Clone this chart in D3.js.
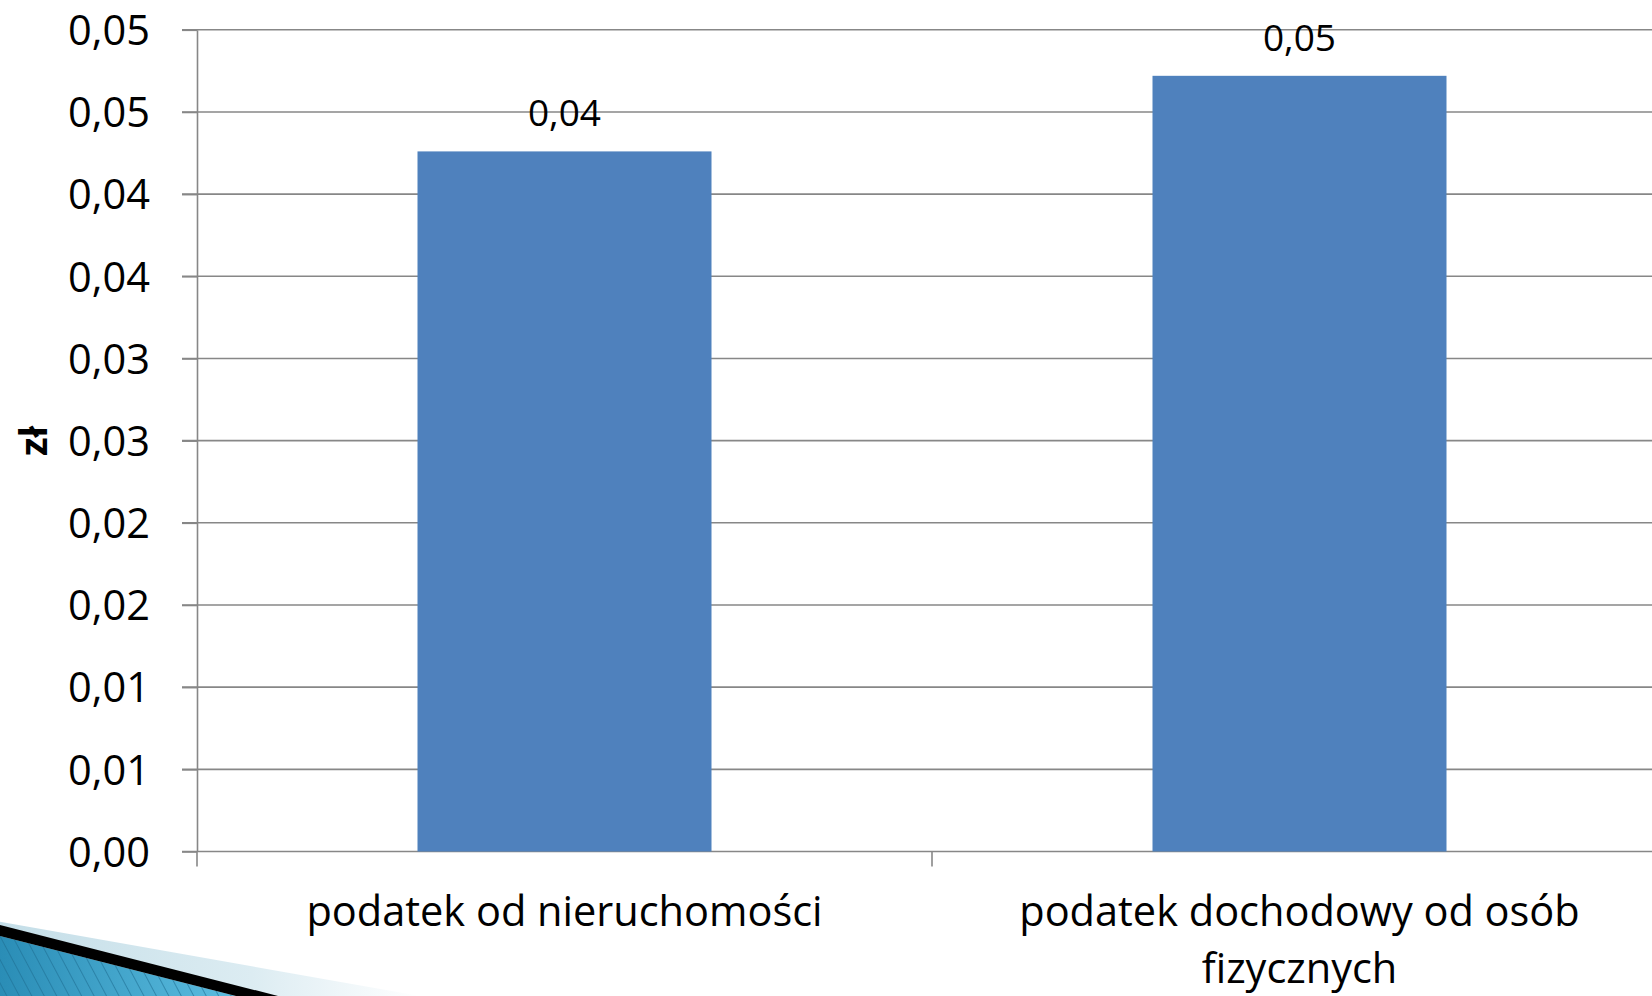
<!DOCTYPE html>
<html><head><meta charset="utf-8">
<script src="https://cdn.jsdelivr.net/npm/d3@7"></script>
<style>html,body{margin:0;padding:0;background:#fff;overflow:hidden}</style>
</head><body><svg id="c" width="1652" height="996"></svg>
<script>
// ---- data ----
const categories = ["podatek od nieruchomości", "podatek dochodowy od osób fizycznych"];
const values = [0.0426, 0.0472];
const valueLabels = ["0,04", "0,05"];
const yTicks = [0, 0.005, 0.01, 0.015, 0.02, 0.025, 0.03, 0.035, 0.04, 0.045, 0.05];
const yTickLabels = ["0,00", "0,01", "0,01", "0,02", "0,02", "0,03", "0,03", "0,04", "0,04", "0,05", "0,05"];
const yTitle = "zł";

// ---- layout ----
const W = 1652, H = 996;
const FONT = "'Open Sans', 'Noto Sans', sans-serif";
const GRID = "#878787";
const svg = d3.select("#c");

const x = d3.scaleBand().domain(categories).range([197, 1667]).paddingInner(0.6).paddingOuter(0.3);
const y = d3.scaleLinear().domain([0, 0.05]).range([851.5, 29.8]);

// decoration (slide theme) bottom-left
const defs = svg.append("defs");
const lg = defs.append("linearGradient").attr("id", "lightStrip").attr("x1", "0").attr("x2", "1").attr("y1", "0").attr("y2", "0");
lg.append("stop").attr("offset", "0").attr("stop-color", "#c4dee8");
lg.append("stop").attr("offset", "0.6").attr("stop-color", "#dcecf2");
lg.append("stop").attr("offset", "1").attr("stop-color", "#ffffff");
const bg = defs.append("linearGradient").attr("id", "blueFill").attr("x1", "0").attr("x2", "1").attr("y1", "0").attr("y2", "0");
bg.append("stop").attr("offset", "0").attr("stop-color", "#2a8db6");
bg.append("stop").attr("offset", "1").attr("stop-color", "#5cbde0");
const pat = defs.append("pattern").attr("id", "hatch").attr("patternUnits", "userSpaceOnUse")
  .attr("width", 11).attr("height", 11).attr("patternTransform", "rotate(-28)");
pat.append("line").attr("x1", 0.5).attr("y1", 0).attr("x2", 0.5).attr("y2", 11)
  .attr("stroke", "#1d6e92").attr("stroke-width", 1).attr("opacity", 0.6);

const deco = svg.append("g");
deco.append("path").attr("d", "M0,921.7 L420,996 L0,996 Z").attr("fill", "url(#lightStrip)");
deco.append("path").attr("d", "M0,936 L236,996 L0,996 Z").attr("fill", "url(#blueFill)");
deco.append("path").attr("d", "M0,936 L236,996 L0,996 Z").attr("fill", "url(#hatch)");
deco.append("path").attr("d", "M0,925 L278,996 L236,996 L0,936 Z").attr("fill", "#000");

// gridlines
svg.append("g").selectAll("line").data(yTicks).join("line")
  .attr("x1", 182).attr("x2", W)
  .attr("y1", d => y(d)).attr("y2", d => y(d))
  .attr("stroke", GRID).attr("stroke-width", 1.6);

// y axis
const yAxis = svg.append("g").attr("transform", "translate(197,0)")
  .call(d3.axisLeft(y).tickValues(yTicks).tickFormat((d, i) => yTickLabels[i]).tickSize(15).tickSizeOuter(0).tickPadding(32));
yAxis.select(".domain").attr("stroke", GRID).attr("stroke-width", 1.6);
yAxis.selectAll(".tick line").attr("stroke", GRID).attr("stroke-width", 1.6);
yAxis.selectAll(".tick text").attr("font-family", FONT).attr("font-size", 41.5).attr("fill", "#000").attr("dy", "0.357em");

// x axis category separator ticks
const sepPositions = d3.range(categories.length + 1).map(i => x.range()[0] + i * x.step());
svg.append("g").selectAll("line").data(sepPositions).join("line")
  .attr("x1", d => d).attr("x2", d => d)
  .attr("y1", y(0)).attr("y2", y(0) + 15)
  .attr("stroke", GRID).attr("stroke-width", 1.6);

// bars
svg.append("g").selectAll("rect").data(categories).join("rect")
  .attr("x", d => x(d)).attr("width", x.bandwidth())
  .attr("y", (d, i) => y(values[i])).attr("height", (d, i) => y(0) - y(values[i]))
  .attr("fill", "#4f81bd");

// value labels
svg.append("g").selectAll("text").data(categories).join("text")
  .attr("x", d => x(d) + x.bandwidth() / 2)
  .attr("y", (d, i) => y(values[i]) - 25)
  .attr("text-anchor", "middle").attr("font-family", FONT).attr("font-size", 37).attr("fill", "#000")
  .text((d, i) => valueLabels[i]);

// category labels with wrapping
const maxW = x.step() * 0.88;
const catG = svg.append("g");
categories.forEach(c => {
  const t = catG.append("text").attr("text-anchor", "middle").attr("font-family", FONT)
    .attr("font-size", 41.5).attr("fill", "#000");
  const words = c.split(" ");
  let lines = [], cur = [];
  const probe = t.append("tspan");
  words.forEach(w => {
    const test = cur.concat([w]).join(" ");
    probe.text(test);
    if (probe.node().getComputedTextLength() > maxW && cur.length) { lines.push(cur.join(" ")); cur = [w]; }
    else cur.push(w);
  });
  lines.push(cur.join(" "));
  probe.remove();
  lines.forEach((l, i) => {
    t.append("tspan").attr("x", x(c) + x.bandwidth() / 2).attr("y", 926 + i * 57).text(l);
  });
});

// y title
svg.append("text").attr("transform", "translate(47,441) rotate(-90)")
  .attr("text-anchor", "middle").attr("font-family", FONT).attr("font-weight", "bold")
  .attr("font-size", 38).attr("fill", "#000").text(yTitle);
</script>
</body></html>
